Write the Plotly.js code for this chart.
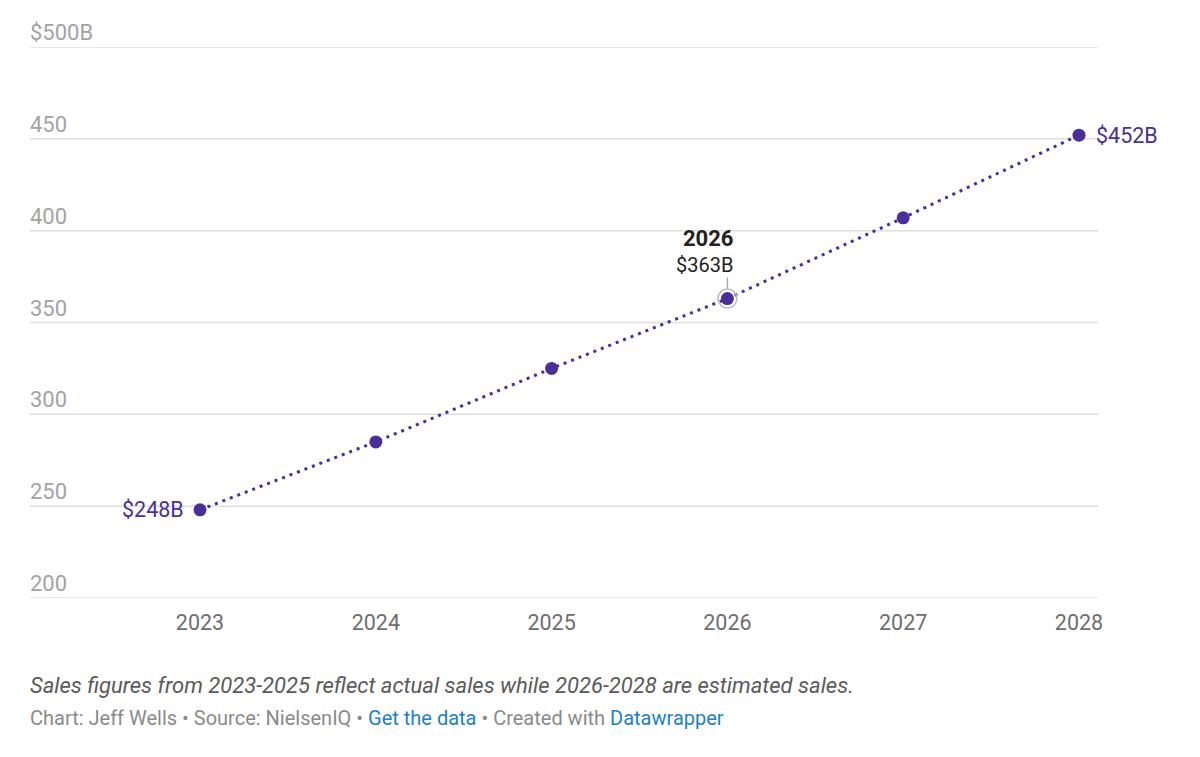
<!DOCTYPE html>
<html>
<head>
<meta charset="utf-8">
<script src="https://cdn.plot.ly/plotly-3.0.1.min.js"></script>
<style>
  html, body { margin: 0; padding: 0; background: #fff; }
  #chart { width: 1200px; height: 757px; }
</style>
</head>
<body>
<div id="chart"></div>
<script>
// Sales in billions of dollars by year
const years = [2023, 2024, 2025, 2026, 2027, 2028];
const sales = [248, 285, 325, 363, 407, 452];

// Value axis ticks
const yTickVals = [200, 250, 300, 350, 400, 450, 500];
const yTickText = ['200', '250', '300', '350', '400', '450', '$500B'];

// Year highlighted with a callout
const highlightYear = 2026;

const purple = '#4b2f99';
const font = 'Roboto, "Open Sans", sans-serif';

const fmt = v => '$' + v + 'B';

const traces = [
  {
    x: years,
    y: sales,
    mode: 'lines',
    line: { color: purple, width: 3, dash: '3px,5px' },
    hoverinfo: 'skip',
    showlegend: false
  },
  {
    x: years,
    y: sales,
    mode: 'markers',
    marker: { color: purple, size: 13 },
    hoverinfo: 'skip',
    showlegend: false
  },
  {
    // ring around the highlighted point
    x: [highlightYear],
    y: [sales[years.indexOf(highlightYear)]],
    mode: 'markers',
    marker: { color: 'rgba(0,0,0,0)', size: 19, line: { color: '#bbbbbb', width: 1.5 } },
    hoverinfo: 'skip',
    showlegend: false
  }
];

const annotations = [];
const shapes = [];

// gridlines with their labels sitting just above them
yTickVals.forEach((v, i) => {
  shapes.push({
    type: 'line', xref: 'paper', yref: 'y', x0: 0, x1: 1, y0: v, y1: v,
    line: { color: '#dfdfdf', width: 1.5 }, layer: 'below'
  });
  annotations.push({
    xref: 'paper', yref: 'y', x: 0, y: v,
    xanchor: 'left', yanchor: 'bottom', yshift: 0, xshift: -2,
    text: yTickText[i], showarrow: false,
    font: { family: font, size: 22, color: '#a3a3a3' }
  });
});

// first and last value labels
annotations.push({
  x: years[0], y: sales[0], xref: 'x', yref: 'y',
  xanchor: 'right', yanchor: 'middle', xshift: -14,
  text: fmt(sales[0]), showarrow: false,
  font: { family: font, size: 21.5, color: purple }
});
annotations.push({
  x: years[years.length - 1], y: sales[sales.length - 1], xref: 'x', yref: 'y',
  xanchor: 'left', yanchor: 'middle', xshift: 15,
  text: fmt(sales[sales.length - 1]), showarrow: false,
  font: { family: font, size: 21.5, color: purple }
});

// callout for the highlighted year
const hv = sales[years.indexOf(highlightYear)];
annotations.push({
  x: highlightYear, y: hv, xref: 'x', yref: 'y',
  xanchor: 'right', yanchor: 'bottom', yshift: 20, xshift: 8,
  text: '<span style="font-size:22px"><b>' + highlightYear + '</b></span><br>' + fmt(hv),
  showarrow: false, align: 'right',
  font: { family: font, size: 20, color: '#222' }
});

// footer notes
annotations.push({
  xref: 'paper', yref: 'paper', x: 0, y: -0.158,
  xanchor: 'left', yanchor: 'middle', xshift: -2,
  text: '<i>Sales figures from 2023-2025 reflect actual sales while 2026-2028 are estimated sales.</i>',
  showarrow: false,
  font: { family: font, size: 22, color: '#5a5a5a' }
});
annotations.push({
  xref: 'paper', yref: 'paper', x: 0, y: -0.218,
  xanchor: 'left', yanchor: 'middle', xshift: -2,
  text: 'Chart: Jeff Wells • Source: NielsenIQ • <span style="color:#1d81c2">Get the data</span> • Created with <span style="color:#1d81c2">Datawrapper</span>',
  showarrow: false,
  font: { family: font, size: 20, color: '#8a8a8a' }
});

// leader line from callout to the point
shapes.push({
  type: 'line', xref: 'x', yref: 'y',
  x0: highlightYear, x1: highlightYear, y0: hv + 5.5, y1: hv + 11.5,
  line: { color: '#aaaaaa', width: 1.5 }
});

const layout = {
  width: 1200, height: 757,
  margin: { l: 30, r: 102, t: 47, b: 159 },
  paper_bgcolor: '#ffffff', plot_bgcolor: '#ffffff',
  font: { family: font },
  xaxis: {
    range: [2022.033, 2028.108],
    tickvals: years,
    ticktext: years.map(String),
    showgrid: false, zeroline: false, showline: false,
    ticks: 'outside', ticklen: 5, tickcolor: 'rgba(0,0,0,0)',
    tickfont: { family: font, size: 21.5, color: '#6e6e6e' }
  },
  yaxis: {
    range: [200, 500],
    showticklabels: false,
    showgrid: false, zeroline: false, showline: false
  },
  annotations: annotations,
  shapes: shapes,
  showlegend: false
};

Plotly.newPlot('chart', traces, layout, { displayModeBar: false, staticPlot: true });
</script>
</body>
</html>
